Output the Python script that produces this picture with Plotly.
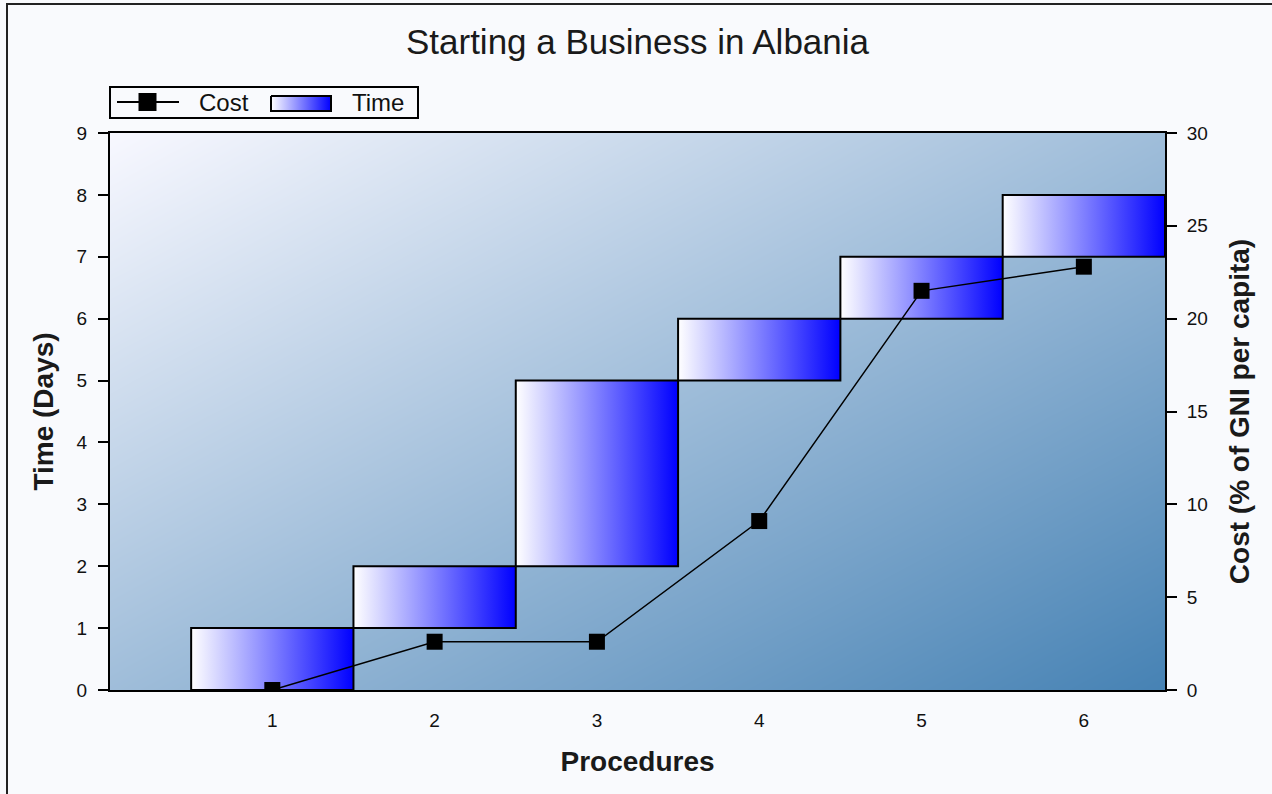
import numpy as np
import plotly.graph_objects as go

# --- data -------------------------------------------------------------
procedures = [1, 2, 3, 4, 5, 6]
day_start = [0, 1, 2, 5, 6, 7]
day_end = [1, 2, 5, 6, 7, 8]
cost_pct = [0.0, 2.6, 2.6, 9.1, 21.5, 22.8]

x_ticks_text = [str(p) for p in procedures]
time_ticks = list(range(0, 10))
cost_ticks = list(range(0, 31, 5))

X_RANGE = [0, len(procedures) + 0.5]
Y_RANGE = [0, 9]
Y2_RANGE = [0, 30]

# --- page geometry (pixels) ------------------------------------------
W, H = 1272, 794
PLOT_L, PLOT_R, PLOT_T, PLOT_B = 110, 1165, 133, 690
LEG_L, LEG_R, LEG_T, LEG_B = 110, 418, 87, 118


def px(x):
    return x / W


def py(y):
    return (H - y) / H


FONT = "Liberation Sans, Arial, sans-serif"
INK = "#111111"
GRAD_TIME = [[0, "#ffffff"], [1, "#0000ff"]]

fig = go.Figure()

# diagonal ghost-white -> steel-blue plot background
gx = np.linspace(X_RANGE[0] - 0.2, X_RANGE[1] + 0.2, 60)
gy = np.linspace(Y_RANGE[0] - 0.2, Y_RANGE[1] + 0.2, 60)
GX, GY = np.meshgrid(gx, gy)
GZ = (GX - X_RANGE[0]) / (X_RANGE[1] - X_RANGE[0]) + (Y_RANGE[1] - GY) / (Y_RANGE[1] - Y_RANGE[0])
fig.add_trace(go.Heatmap(
    x=gx, y=gy, z=GZ, zmin=0, zmax=2, zsmooth="best",
    colorscale=[[0, "#f8f8ff"], [1, "#4682b4"]],
    showscale=False, hoverinfo="skip",
))

# floating time bars, one per procedure, white -> blue horizontal gradient
for p, s, e in zip(procedures, day_start, day_end):
    fig.add_trace(go.Scatter(
        x=[p - 0.5, p + 0.5, p + 0.5, p - 0.5, p - 0.5],
        y=[s, s, e, e, s],
        mode="lines", fill="toself", fillcolor="#0000ff",
        fillgradient=dict(type="horizontal", colorscale=GRAD_TIME),
        line=dict(color="#000000", width=2),
        name="Time", hoverinfo="skip",
    ))

# cost line on the secondary axis
fig.add_trace(go.Scatter(
    x=procedures, y=cost_pct, yaxis="y2",
    mode="lines+markers", name="Cost",
    line=dict(color="#000000", width=1.5),
    marker=dict(symbol="square", size=16, color="#000000"),
))

# legend swatches, drawn in a small pixel-unit subplot above the chart
leg_y = 102
fig.add_trace(go.Scatter(
    x=[117, 179], y=[leg_y, leg_y], xaxis="x3", yaxis="y3",
    mode="lines", line=dict(color="#000000", width=2), hoverinfo="skip",
))
fig.add_trace(go.Scatter(
    x=[147.5], y=[leg_y], xaxis="x3", yaxis="y3",
    mode="markers", marker=dict(symbol="square", size=18, color="#000000"),
    hoverinfo="skip",
))
fig.add_trace(go.Scatter(
    x=[271, 331, 331, 271, 271], y=[96, 96, 111, 111, 96],
    xaxis="x3", yaxis="y3",
    mode="lines", fill="toself", fillcolor="#0000ff",
    fillgradient=dict(type="horizontal", colorscale=GRAD_TIME),
    line=dict(color="#000000", width=2), hoverinfo="skip",
))

tick_font = dict(family=FONT, size=19, color=INK)
title_font = dict(family=FONT, size=28, color="#1a1a1a")
axis_common = dict(
    linecolor="#000000", linewidth=2, showgrid=False, zeroline=False,
    ticks="outside", ticklen=10, tickwidth=2, tickcolor="#000000",
    tickfont=tick_font, automargin=False, fixedrange=True,
)
dom_x = [px(PLOT_L), px(PLOT_R)]
dom_y = [py(PLOT_B), py(PLOT_T)]

fig.update_layout(
    width=W, height=H,
    margin=dict(l=0, r=0, t=0, b=0),
    paper_bgcolor="#f9fafd",
    plot_bgcolor="#f9fafd",
    showlegend=False,
    title=dict(text="Starting a Business in Albania", x=0.5 * (px(PLOT_L) + px(PLOT_R)),
               xanchor="center", y=py(42), yanchor="middle", yref="container",
               font=dict(family=FONT, size=35, color="#1a1a1a")),
    xaxis=dict(
        domain=dom_x, anchor="y", range=X_RANGE,
        tickvals=procedures, ticktext=x_ticks_text,
        showline=True, mirror=True, linecolor="#000000", linewidth=2,
        showgrid=False, zeroline=False, ticks="", ticklabelstandoff=12,
        tickfont=tick_font, automargin=False,
        title=dict(text="<b>Procedures</b>", standoff=22, font=title_font),
    ),
    xaxis2=dict(
        overlaying="x", anchor="y", side="bottom", range=X_RANGE,
        tickvals=[p + 0.5 for p in [0] + procedures], showticklabels=False,
        ticks="outside", ticklen=10, tickwidth=2, tickcolor="#000000",
        showline=False, showgrid=False, zeroline=False, automargin=False,
    ),
    yaxis=dict(
        domain=dom_y, anchor="x", range=Y_RANGE, tickvals=time_ticks,
        showline=True, ticklabelstandoff=7, **axis_common,
        title=dict(text="<b>Time (Days)</b>", standoff=15, font=title_font),
    ),
    yaxis2=dict(
        range=Y2_RANGE, tickvals=cost_ticks, overlaying="y", side="right",
        anchor="x", showline=True, ticklabelstandoff=6, **axis_common,
        title=dict(text="<b>Cost (% of GNI per capita)</b>", standoff=22, font=title_font),
    ),
    xaxis3=dict(domain=[px(LEG_L), px(LEG_R)], anchor="y3", range=[LEG_L, LEG_R],
                visible=False, fixedrange=True, automargin=False),
    yaxis3=dict(domain=[py(LEG_B), py(LEG_T)], anchor="x3", range=[LEG_B, LEG_T],
                visible=False, fixedrange=True, automargin=False),
)

# legend frame and labels
fig.add_shape(type="rect", xref="paper", yref="paper",
              x0=px(LEG_L), x1=px(LEG_R), y0=py(LEG_B), y1=py(LEG_T),
              line=dict(color="#000000", width=2), fillcolor="rgba(0,0,0,0)")
for label, x_left in [("Cost", 197), ("Time", 350)]:
    fig.add_annotation(text=label, xref="paper", yref="paper",
                       x=px(x_left), y=py(leg_y + 1), xanchor="left", yanchor="middle",
                       showarrow=False, font=dict(family=FONT, size=24, color=INK))

# outer frame of the figure
fig.add_shape(type="rect", xref="paper", yref="paper",
              x0=px(7), x1=1.5, y0=-1.0, y1=py(4),
              line=dict(color="#222222", width=2), fillcolor="rgba(0,0,0,0)",
              layer="below")

fig.write_html("out.html", config=dict(displayModeBar=False))
